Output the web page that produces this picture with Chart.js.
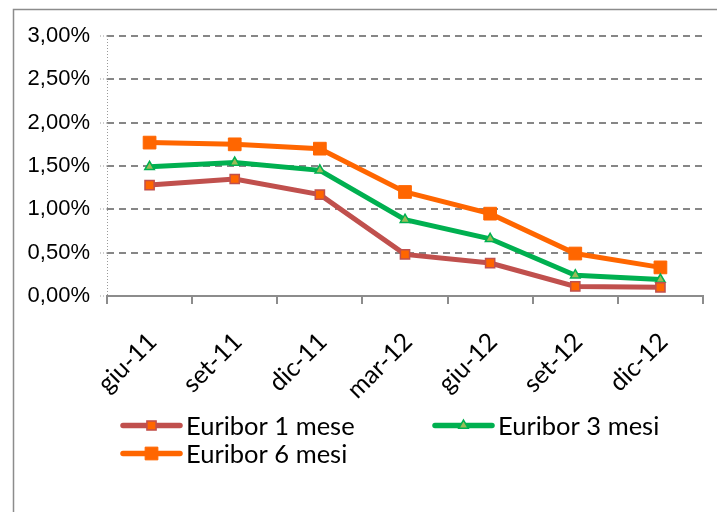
<!DOCTYPE html>
<html>
<head>
<meta charset="utf-8">
<script src="https://cdn.jsdelivr.net/npm/chart.js@4/dist/chart.umd.min.js"></script>
<style>
  html, body { margin: 0; padding: 0; background: #fff; }
  #wrap { width: 717px; height: 512px; position: relative; }
</style>
</head>
<body>
<div id="wrap"><canvas id="chart" width="717" height="512"></canvas></div>
<script>
// categories (quarters) and Euribor rates in %
var months = ['giu-11', 'set-11', 'dic-11', 'mar-12', 'giu-12', 'set-12', 'dic-12'];
var euribor1m = [1.28, 1.35, 1.17, 0.48, 0.38, 0.11, 0.10];
var euribor3m = [1.49, 1.54, 1.45, 0.88, 0.66, 0.24, 0.19];
var euribor6m = [1.77, 1.75, 1.70, 1.20, 0.95, 0.49, 0.33];
var seriesNames = ['Euribor 1 mese', 'Euribor 3 mesi', 'Euribor 6 mesi'];

var formatPct = function(v){
    return v.toFixed(2).replace('.', ',') + '%';
};

// outer frame like the spreadsheet chart box (only left/top visible)
// plus the dotted value axis line
var framePlugin = {
    id: 'frame',
    beforeDraw: function(chart){
        var ctx = chart.ctx;
        ctx.save();
        ctx.strokeStyle = '#8c8c8c';
        ctx.lineWidth = 1.5;
        ctx.beginPath();
        ctx.moveTo(13.5, 512);
        ctx.lineTo(13.5, 9.5);
        ctx.lineTo(717, 9.5);
        ctx.stroke();
        ctx.restore();
    },
    beforeDatasetsDraw: function(chart){
        var ctx = chart.ctx;
        var area = chart.chartArea;
        ctx.save();
        ctx.strokeStyle = '#9a9a9a';
        ctx.lineWidth = 1;
        ctx.setLineDash([1, 2]);
        ctx.beginPath();
        ctx.moveTo(Math.round(area.left) + 0.5, area.top);
        ctx.lineTo(Math.round(area.left) + 0.5, area.bottom);
        ctx.stroke();
        ctx.restore();
    }
};

var drawMarker = function(ctx, style, r, x, y){
    ctx.beginPath();
    if(style === 'triangle'){
        ctx.moveTo(x, y - r);
        ctx.lineTo(x + r * 0.866, y + r * 0.5);
        ctx.lineTo(x - r * 0.866, y + r * 0.5);
        ctx.closePath();
    } else {
        var s = r * Math.SQRT1_2;
        ctx.rect(x - s, y - s, 2 * s, 2 * s);
    }
    ctx.fill();
    ctx.stroke();
};

// legend: two columns, line sample with marker in the middle
var legendPlugin = {
    id: 'sideLegend',
    afterDraw: function(chart){
        var ctx = chart.ctx;
        var cols = [123, 435];
        var rows = [425.5, 453.5];
        ctx.save();
        ctx.font = '25.5px Lato, "Open Sans", sans-serif';
        ctx.textBaseline = 'middle';
        chart.data.datasets.forEach(function(ds, i){
            var x = cols[i % 2];
            var y = rows[Math.floor(i / 2)];
            ctx.strokeStyle = ds.borderColor;
            ctx.lineWidth = ds.borderWidth + 0.5;
            ctx.lineCap = 'round';
            ctx.beginPath();
            ctx.moveTo(x, y);
            ctx.lineTo(x + 57, y);
            ctx.stroke();
            ctx.lineCap = 'butt';
            ctx.fillStyle = ds.pointBackgroundColor;
            ctx.strokeStyle = ds.pointBorderColor;
            ctx.lineWidth = ds.pointBorderWidth;
            drawMarker(ctx, ds.pointStyle, ds.pointRadius, x + 28.5, y);
            ctx.fillStyle = '#000';
            ctx.fillText(ds.label, x + 63, y + 1);
        });
        ctx.restore();
    }
};

var chart = new Chart(document.getElementById('chart'), {
    type: 'line',
    data: {
        labels: months,
        datasets: [
            {
                label: seriesNames[0],
                data: euribor1m,
                borderColor: '#C0504D',
                borderWidth: 5,
                pointStyle: 'rect',
                pointRadius: 6.5,
                pointBackgroundColor: '#FF6600',
                pointBorderColor: '#C0504D',
                pointBorderWidth: 1.5
            },
            {
                label: seriesNames[1],
                data: euribor3m,
                borderColor: '#00B050',
                borderWidth: 5,
                pointStyle: 'triangle',
                pointRadius: 5.5,
                pointBackgroundColor: '#9BBB59',
                pointBorderColor: '#00B050',
                pointBorderWidth: 1.5
            },
            {
                label: seriesNames[2],
                data: euribor6m,
                borderColor: '#FF6600',
                borderWidth: 5,
                pointStyle: 'rect',
                pointRadius: 9,
                pointBackgroundColor: '#FF6600',
                pointBorderColor: '#FF6600',
                pointBorderWidth: 1
            }
        ]
    },
    options: {
        responsive: false,
        animation: false,
        layout: { padding: { top: 36, right: 14, left: 0, bottom: 0 } },
        plugins: {
            legend: { display: false },
            tooltip: { enabled: false }
        },
        elements: { line: { tension: 0 } },
        scales: {
            x: {
                offset: true,
                grid: {
                    offset: true,
                    drawOnChartArea: false,
                    drawTicks: true,
                    tickLength: 8,
                    color: '#8c8c8c',
                    lineWidth: 2
                },
                border: { color: '#8c8c8c', width: 2 },
                ticks: {
                    autoSkip: false,
                    minRotation: 45,
                    maxRotation: 45,
                    padding: 23,
                    labelOffset: 3,
                    color: '#000',
                    font: { family: 'Lato, "Open Sans", sans-serif', size: 25 }
                },
                afterFit: function(scale){ scale.height = 216; }
            },
            y: {
                min: 0,
                max: 3,
                ticks: {
                    stepSize: 0.5,
                    padding: 10,
                    color: '#000',
                    font: { family: '"Liberation Sans", Arial, sans-serif', size: 22 },
                    callback: function(v){ return formatPct(v); }
                },
                grid: {
                    color: '#868686',
                    lineWidth: 2,
                    tickLength: 7,
                    tickColor: '#9a9a9a',
                    tickWidth: 1,
                    tickBorderDash: [1, 2]
                },
                border: { display: false, color: '#9a9a9a', width: 1, dash: [7, 5] },
                afterFit: function(scale){ scale.width = 107; }
            }
        }
    },
    plugins: [framePlugin, legendPlugin]
});
</script>
</body>
</html>
